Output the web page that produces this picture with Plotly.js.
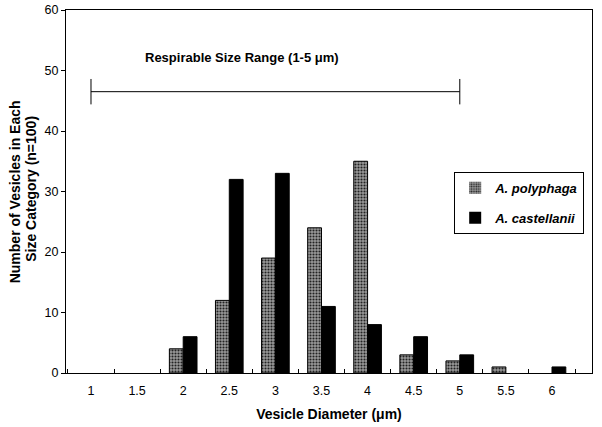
<!DOCTYPE html>
<html>
<head>
<meta charset="utf-8">
<script src="https://cdn.plot.ly/plotly-3.0.1.min.js"></script>
<style>html,body{margin:0;padding:0;background:#fff}#chart{width:602px;height:427px}</style>
</head>
<body>
<div id="chart"></div>
<script>
// Data
var diameters = [1, 1.5, 2, 2.5, 3, 3.5, 4, 4.5, 5, 5.5, 6];
var tickLabels = ["1", "1.5", "2", "2.5", "3", "3.5", "4", "4.5", "5", "5.5", "6"];
var polyphaga = [0, 0, 4, 12, 19, 24, 35, 3, 2, 1, 0];
var castellanii = [0, 0, 6, 32, 33, 11, 8, 6, 3, 0, 1];
var seriesNames = ["A. polyphaga", "A. castellanii"];
var respirableRange = [1, 5];
var respirableLevel = 46.5;
var respirableLabel = "Respirable Size Range (1-5 \u03bcm)";
var yTitleLines = ["Number of Vesicles in Each", "Size Category (n=100)"];

var minorTicks = [];
for (var i = 0; i < diameters.length; i++) { minorTicks.push(diameters[i] + 0.25); minorTicks.push(diameters[i] - 0.25); }
function outlineWidths(vals) { return vals.map(function (v) { return v > 0 ? 1 : 0; }); }

var font = "Liberation Sans, Arial, sans-serif";

var traces = [
  {
    type: "bar", x: diameters, y: polyphaga, name: seriesNames[0],
    legendgroup: "a",
    marker: {
      color: "#8c8c8c",
      line: {color: "#000", width: outlineWidths(polyphaga)},
      pattern: {shape: ".", fgcolor: "#222", bgcolor: "#9a9a9a", size: 3, solidity: 0.4}
    },
    hoverinfo: "x+y"
  },
  {
    type: "bar", x: diameters, y: castellanii, name: seriesNames[1],
    legendgroup: "b",
    marker: {color: "#000", line: {color: "#000", width: outlineWidths(castellanii)}},
    hoverinfo: "x+y"
  }
];

var capHalf = 2.1;
var layout = {
  width: 602, height: 427,
  margin: {l: 66, r: 10, t: 10, b: 54},
  paper_bgcolor: "#fff", plot_bgcolor: "#fff",
  font: {family: font, color: "#000", size: 12},
  barmode: "group",
  bargap: 0.4,
  bargroupgap: 0,
  showlegend: true,
  legend: {
    x: 0.738, y: 0.554, xanchor: "left", yanchor: "top",
    bordercolor: "#000", borderwidth: 1, bgcolor: "#fff",
    font: {family: font, size: 13, weight: "bold", style: "italic"},
    traceorder: "grouped", tracegroupgap: 10
  },
  xaxis: {
    range: [0.729, 6.434],
    tickvals: diameters, ticktext: tickLabels,
    ticks: "", showgrid: false, zeroline: false,
    showline: true, linecolor: "#000", linewidth: 1, mirror: true,
    tickfont: {family: font, size: 12.5},
    ticklabelstandoff: 6,
    minor: {tickvals: minorTicks, ticks: "inside", ticklen: 4, tickcolor: "#000", showgrid: false},
    title: {text: "Vesicle Diameter (\u03bcm)", font: {family: font, size: 14, weight: "bold"}, standoff: 12}
  },
  yaxis: {
    range: [0, 60], dtick: 10,
    ticks: "outside", ticklen: 4, tickcolor: "#000",
    showgrid: false, zeroline: false,
    showline: true, linecolor: "#000", linewidth: 1, mirror: true,
    tickfont: {family: font, size: 12.5}
  },
  shapes: [
    {type: "line", xref: "x", yref: "y", x0: respirableRange[0], x1: respirableRange[1], y0: respirableLevel, y1: respirableLevel, line: {color: "#000", width: 1}},
    {type: "line", xref: "x", yref: "y", x0: respirableRange[0], x1: respirableRange[0], y0: respirableLevel - capHalf, y1: respirableLevel + capHalf, line: {color: "#000", width: 1}},
    {type: "line", xref: "x", yref: "y", x0: respirableRange[1], x1: respirableRange[1], y0: respirableLevel - capHalf, y1: respirableLevel + capHalf, line: {color: "#000", width: 1}}
  ],
  annotations: [
    {xref: "x", yref: "y", x: 2.64, y: 52.1, text: respirableLabel, showarrow: false,
     font: {family: font, size: 13, weight: "bold"}},
    {xref: "paper", yref: "paper", x: -0.098, y: 0.499, text: yTitleLines[0], textangle: -90, showarrow: false,
     xanchor: "center", yanchor: "middle", font: {family: font, size: 14, weight: "bold"}},
    {xref: "paper", yref: "paper", x: -0.068, y: 0.508, text: yTitleLines[1], textangle: -90, showarrow: false,
     xanchor: "center", yanchor: "middle", font: {family: font, size: 14, weight: "bold"}}
  ]
};

Plotly.newPlot("chart", traces, layout, {displayModeBar: false, staticPlot: true});
</script>
</body>
</html>
